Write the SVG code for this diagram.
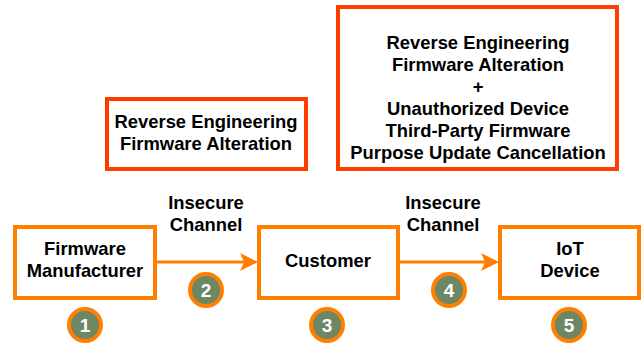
<svg xmlns="http://www.w3.org/2000/svg" width="642" height="345" viewBox="0 0 642 345">
<style>
  .box{fill:#fff;stroke:#ff8000;stroke-width:4}
  .red{fill:#fff;stroke:#ff3c00;stroke-width:4}
  .t{font-family:"Liberation Sans",Arial,sans-serif;font-weight:bold;font-size:18.4px;fill:#000;text-anchor:middle}
  .num{font-family:"Liberation Sans",Arial,sans-serif;font-weight:bold;font-size:19px;fill:#fff;text-anchor:middle}
  .circ{fill:#6d8764;stroke:#ff8000;stroke-width:4}
  .conn{stroke:#ff8000;stroke-width:3;fill:none}
  .head{fill:#ff8000}
</style>
<rect width="642" height="345" fill="#fff"/>
<g id="threat1">
  <rect class="red" x="107" y="99" width="199" height="70"/>
  <text class="t" x="206" y="128">Reverse Engineering</text>
  <text class="t" x="206" y="150">Firmware Alteration</text>
</g>
<g id="threat2">
  <rect class="red" x="338" y="7" width="279" height="162"/>
  <text class="t" x="478" y="49">Reverse Engineering</text>
  <text class="t" x="478" y="71">Firmware Alteration</text>
  <text class="t" x="478" y="93">+</text>
  <text class="t" x="478" y="115">Unauthorized Device</text>
  <text class="t" x="478" y="137">Third-Party Firmware</text>
  <text class="t" x="478" y="159">Purpose Update Cancellation</text>
</g>
<g id="connectors">
  <line class="conn" x1="157" y1="262" x2="246" y2="262"/>
  <polygon class="head" points="258,262 240,253 244,262 240,271"/>
  <line class="conn" x1="400" y1="262" x2="487" y2="262"/>
  <polygon class="head" points="499,262 481,253 485,262 481,271"/>
  <text class="t" x="206" y="209">Insecure</text>
  <text class="t" x="206" y="231">Channel</text>
  <text class="t" x="443" y="209">Insecure</text>
  <text class="t" x="443" y="231">Channel</text>
</g>
<g id="manufacturer">
  <rect class="box" x="15" y="227" width="140" height="71"/>
  <text class="t" x="85" y="255">Firmware</text>
  <text class="t" x="85" y="277">Manufacturer</text>
</g>
<g id="customer">
  <rect class="box" x="259" y="227" width="139" height="71"/>
  <text class="t" x="328" y="267">Customer</text>
</g>
<g id="iot">
  <rect class="box" x="500" y="227" width="139" height="71"/>
  <text class="t" x="570" y="255">IoT</text>
  <text class="t" x="570" y="277">Device</text>
</g>
<g id="step1"><circle class="circ" cx="85" cy="325" r="16"/><text class="num" x="85" y="331.5">1</text></g>
<g id="step2"><circle class="circ" cx="206" cy="290" r="16"/><text class="num" x="206" y="296.5">2</text></g>
<g id="step3"><circle class="circ" cx="327" cy="325" r="16"/><text class="num" x="327" y="331.5">3</text></g>
<g id="step4"><circle class="circ" cx="449" cy="290" r="16"/><text class="num" x="449" y="296.5">4</text></g>
<g id="step5"><circle class="circ" cx="569" cy="325" r="16"/><text class="num" x="569" y="331.5">5</text></g>
</svg>
